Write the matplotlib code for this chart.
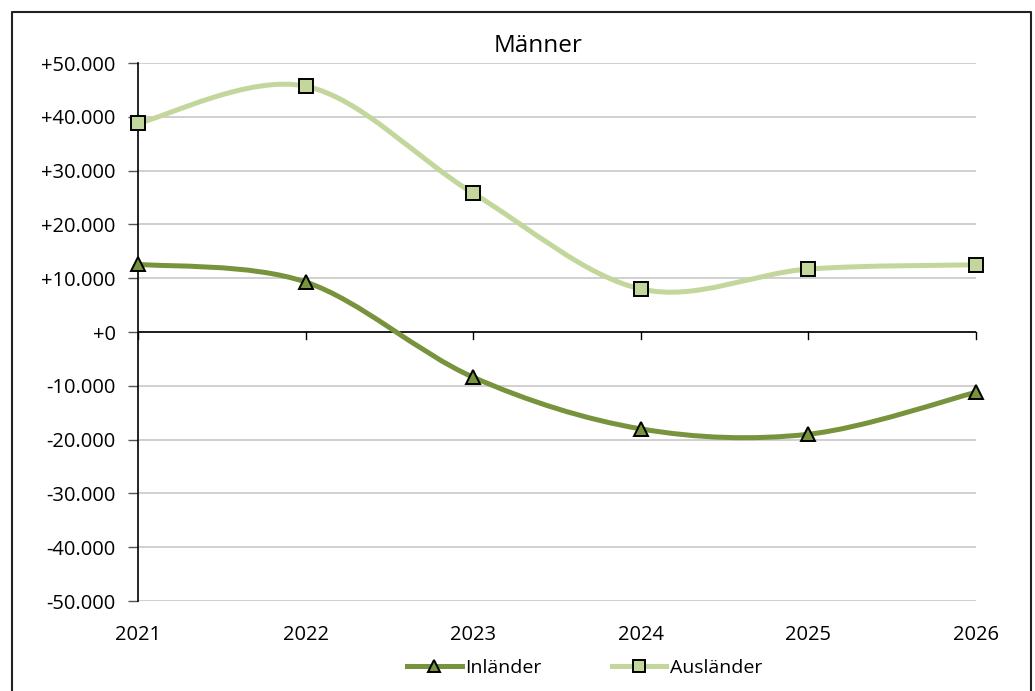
#!/usr/bin/env python3
"""Wanderungssaldo Männer 2021-2026, Inländer vs. Ausländer."""

import numpy as np
import matplotlib

matplotlib.use("Agg")
import matplotlib.pyplot as plt
from matplotlib.path import Path
from matplotlib.patches import PathPatch
from matplotlib.lines import Line2D
from matplotlib.ticker import FuncFormatter

plt.rcParams["font.family"] = ["Open Sans", "DejaVu Sans"]

years = [2021, 2022, 2023, 2024, 2025, 2026]
inlaender = [12600, 9300, -8400, -18000, -19000, -11200]
auslaender = [38800, 45700, 25800, 8000, 11700, 12500]
series_labels = ["Inländer", "Ausländer"]
title = "Männer"

COL_IN = "#77933C"
COL_AUS = "#C3D69B"


def smooth_path(x, y):
    """Excel-style smoothed line as cubic Bezier segments."""
    pts = np.column_stack((np.asarray(x, float), np.asarray(y, float)))
    ext = np.vstack((pts[0], pts, pts[-1]))
    verts = [pts[0]]
    codes = [Path.MOVETO]
    for i in range(len(pts) - 1):
        p0, p1, p2, p3 = ext[i], ext[i + 1], ext[i + 2], ext[i + 3]
        verts += [p1 + (p2 - p0) / 6.0, p2 - (p3 - p1) / 6.0, p2]
        codes += [Path.CURVE4] * 3
    return Path(verts, codes)


def fmt(value, _pos):
    text = "{:,.0f}".format(abs(value)).replace(",", ".")
    return ("-" if value < 0 else "+") + text


fig = plt.figure(figsize=(10.35, 6.91), dpi=100)
ax = fig.add_axes([0.1333, 0.1302, 0.8097, 0.7786])

for ys, col, mk in [(inlaender, COL_IN, "^"), (auslaender, COL_AUS, "s")]:
    ax.add_patch(PathPatch(smooth_path(years, ys), facecolor="none",
                           edgecolor=col, linewidth=3.6, zorder=3,
                           capstyle="round", clip_on=False))
    ax.plot(years, ys, linestyle="none", marker=mk, markersize=10,
            markerfacecolor=col, markeredgecolor="black",
            markeredgewidth=1.4, zorder=4, clip_on=False)

ax.set_xlim(years[0], years[-1])
ax.set_ylim(-50000, 50000)
ax.set_yticks(np.arange(-50000, 50001, 10000))
ax.yaxis.set_major_formatter(FuncFormatter(fmt))
ax.set_xticks(years)
ax.set_xticklabels([str(y) for y in years])

ax.grid(axis="y", color="#c8c8c8", linewidth=1.2, zorder=0)
for side in ["top", "right", "bottom"]:
    ax.spines[side].set_visible(False)
ax.spines["left"].set_color("black")
ax.spines["left"].set_linewidth(1.2)
ax.axhline(0, color="black", linewidth=1.2, zorder=2)

# x ticks sit on the zero line, labels stay below the plot
for yr in years:
    ax.plot([yr, yr], [0, -1300], color="black", linewidth=1.0,
            zorder=2, clip_on=False)
ax.tick_params(axis="x", length=0, pad=17, labelsize=14.5)
ax.tick_params(axis="y", length=7, width=1.0, color="#555555",
               pad=9, labelsize=14.5)

fig.text(0.52, 0.933, title, ha="center", va="center", fontsize=17.5)

handles = [
    Line2D([], [], color=COL_IN, linewidth=3.6, marker="^", markersize=9,
           markerfacecolor=COL_IN, markeredgecolor="black", markeredgewidth=1.4),
    Line2D([], [], color=COL_AUS, linewidth=3.6, marker="s", markersize=9,
           markerfacecolor=COL_AUS, markeredgecolor="black", markeredgewidth=1.4),
]
fig.legend(handles, series_labels, loc="center", bbox_to_anchor=(0.565, 0.033),
           ncol=2, frameon=False, fontsize=14, handlelength=2.8,
           handletextpad=0.2, columnspacing=3.6)

# outer frame (left, top, right)
fig.add_artist(Line2D([0.0116, 0.0116, 0.9962, 0.9962],
                      [0.0, 0.9826, 0.9826, 0.0],
                      transform=fig.transFigure, color="#222222",
                      linewidth=1.5))

fig.savefig("out.png", dpi=100)
